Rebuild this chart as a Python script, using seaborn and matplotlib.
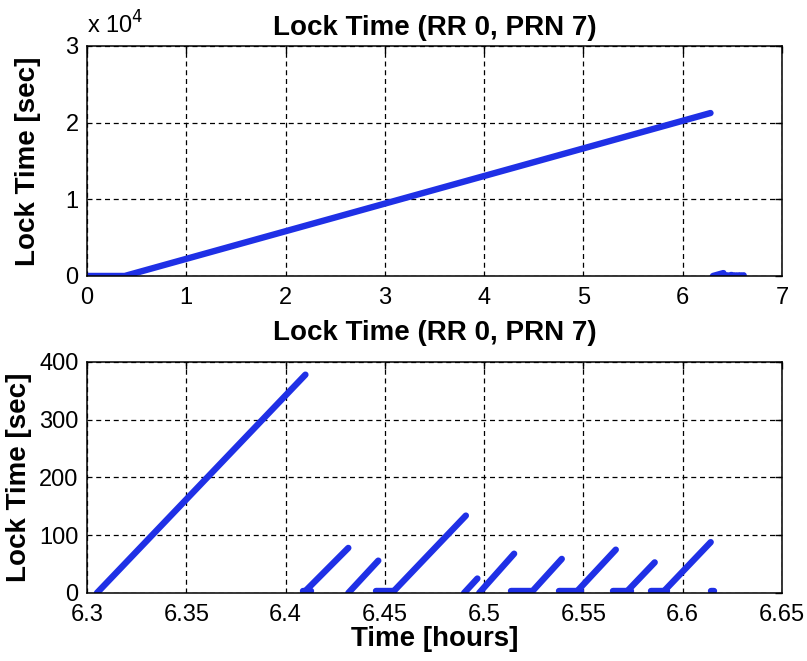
import pandas as pd
import matplotlib
matplotlib.use("Agg")
import matplotlib.pyplot as plt
import seaborn as sns
from matplotlib.ticker import FuncFormatter, FormatStrFormatter

# ---- data ----
# long lock arc over the whole pass (hours, seconds)
ramp_hours = [0.0, 0.38, 6.28]
ramp_lock = [0, 0, 21250]

# short re-lock arcs at the end of the pass: start hour, end hour, lock time at end
seg_start = [6.305, 6.409, 6.4316, 6.4536, 6.4899, 6.4975, 6.5235, 6.5460, 6.5712, 6.5897]
seg_end = [6.410, 6.4316, 6.4467, 6.4908, 6.4966, 6.5151, 6.5391, 6.5663, 6.5859, 6.6141]
seg_peak = [378, 78, 56, 134, 25, 68, 59, 75, 53, 88]

# clumps of near-zero lock time between arcs
flat_start = [6.409, 6.4455, 6.5135, 6.5378, 6.5650, 6.5842, 6.6145]
flat_end = [6.413, 6.4545, 6.5235, 6.5487, 6.5740, 6.5923, 6.6160]
flat_level = [4, 4, 4, 4, 4, 4, 4]

TITLE = "Lock Time (RR 0, PRN 7)"
BLUE = "#1f30e6"

# build long-form frame, one unit per arc
rows = []
for h, v in zip(ramp_hours, ramp_lock):
    rows.append({"unit": "ramp", "hours": h, "lock": v})
for i in range(len(seg_start)):
    rows.append({"unit": f"s{i}", "hours": seg_start[i], "lock": 0})
    rows.append({"unit": f"s{i}", "hours": seg_end[i], "lock": seg_peak[i]})
for i in range(len(flat_start)):
    rows.append({"unit": f"f{i}", "hours": flat_start[i], "lock": flat_level[i]})
    rows.append({"unit": f"f{i}", "hours": flat_end[i], "lock": flat_level[i]})
df = pd.DataFrame(rows)
df_end = df[df["unit"] != "ramp"]

sns.set_theme(style="white")
plt.rcParams["font.family"] = ["Liberation Sans", "DejaVu Sans"]
plt.rcParams["text.color"] = "black"
plt.rcParams["axes.labelcolor"] = "black"
plt.rcParams["axes.titlecolor"] = "black"

fig = plt.figure(figsize=(8.07, 6.61), dpi=100)
ax1 = fig.add_axes([0.1078, 0.5825, 0.8612, 0.348])
ax2 = fig.add_axes([0.1078, 0.1029, 0.8612, 0.3495])

line_kw = dict(estimator=None, units="unit", color=BLUE, linewidth=4.6,
               solid_capstyle="round", legend=False)
sns.lineplot(data=df, x="hours", y="lock", ax=ax1, **line_kw)
sns.lineplot(data=df_end, x="hours", y="lock", ax=ax2, **line_kw)

for ax in (ax1, ax2):
    ax.grid(True, color="black", linestyle=(0, (4, 3)), linewidth=0.9)
    ax.set_axisbelow(True)
    for sp in ax.spines.values():
        sp.set_color("black")
        sp.set_linewidth(1.1)
    ax.tick_params(direction="in", length=5, width=1, colors="black",
                   labelsize=17, top=True, right=True, pad=6)
    ax.set_xlabel("")
    ax.set_ylabel("Lock Time [sec]", fontsize=20, fontweight="bold")

# top panel
ax1.set_xlim(0, 7)
ax1.set_ylim(0, 30000)
ax1.set_xticks(range(0, 8))
ax1.set_yticks([0, 10000, 20000, 30000])
ax1.yaxis.set_major_formatter(FuncFormatter(lambda v, p: f"{v / 1e4:g}"))
ax1.tick_params(axis="x", pad=8)
ax1.text(0.0, 1.03, r"x 10$^{4}$", transform=ax1.transAxes, fontsize=17,
         ha="left", va="bottom")
ax1.set_title(TITLE, fontsize=20, fontweight="bold", pad=8)
ax1.yaxis.set_label_coords(-0.066, 0.5)

# bottom panel
ax2.set_xlim(6.3, 6.65)
ax2.set_ylim(0, 400)
ax2.set_xticks([6.3, 6.35, 6.4, 6.45, 6.5, 6.55, 6.6, 6.65])
ax2.set_yticks([0, 100, 200, 300, 400])
ax2.xaxis.set_major_formatter(FormatStrFormatter("%g"))
ax2.tick_params(axis="x", pad=8)
ax2.set_title(TITLE, fontsize=20, fontweight="bold", pad=16)
ax2.set_xlabel("Time [hours]", fontsize=20, fontweight="bold", labelpad=0)
ax2.yaxis.set_label_coords(-0.079, 0.5)

fig.savefig("out.png", dpi=100)
